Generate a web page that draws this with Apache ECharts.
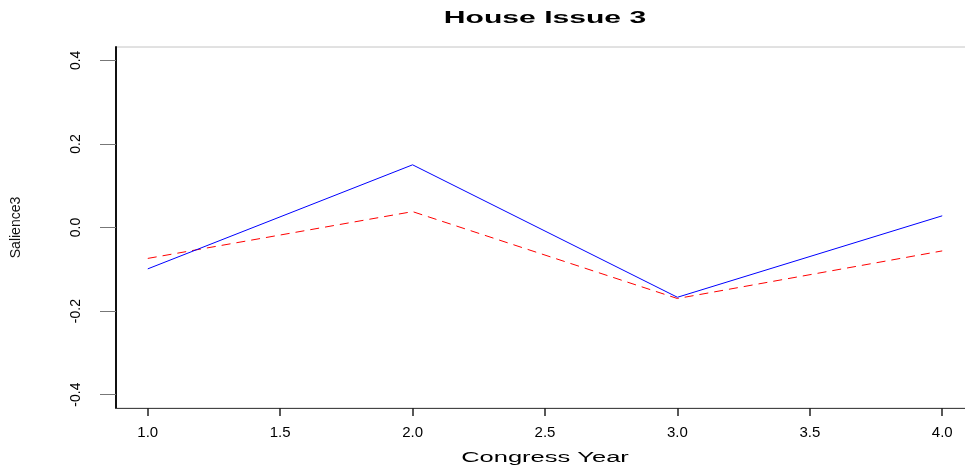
<!DOCTYPE html>
<html>
<head>
<meta charset="utf-8">
<script src="https://cdn.jsdelivr.net/npm/echarts@6/dist/echarts.min.js"></script>
<style>
  html, body { margin: 0; padding: 0; background: #fff; }
  #chart { width: 965px; height: 472px; }
</style>
</head>
<body>
<div id="chart"></div>
<script>
// Salience of House issue 3 across congress years
const titleText = 'House Issue 3';
const xTitle = 'Congress Year';
const yTitle = 'Salience3';

const congressYear = [1, 2, 3, 4];
const blueSeries = [-0.099, 0.150, -0.167, 0.028];
const redSeries = [-0.074, 0.038, -0.170, -0.056];

const xTicks = [1.0, 1.5, 2.0, 2.5, 3.0, 3.5, 4.0];
const xTickLabels = ['1.0', '1.5', '2.0', '2.5', '3.0', '3.5', '4.0'];
const yTicks = [-0.4, -0.2, 0.0, 0.2, 0.4];
const yTickLabels = ['-0.4', '-0.2', '0.0', '0.2', '0.4'];

function labelFor(ticks, labels) {
  return function (v) {
    for (let i = 0; i < ticks.length; i++) {
      if (Math.abs(ticks[i] - v) < 1e-9) return labels[i];
    }
    return '';
  };
}

const chart = echarts.init(document.getElementById('chart'), null, { renderer: 'canvas' });
const font = '"Liberation Sans", Arial, sans-serif';

chart.setOption({
  animation: false,
  backgroundColor: '#ffffff',
  grid: {
    left: 116, top: 47, right: -9, bottom: 64,
    outerBoundsMode: 'none',
    containLabel: false,
    show: true, borderColor: '#c4c4c4', borderWidth: 1
  },
  xAxis: {
    type: 'value',
    min: 0.88, max: 4.12,
    splitLine: { show: false },
    axisLine: { show: true, onZero: false, lineStyle: { color: '#444', width: 1.2 } },
    axisTick: { show: true, customValues: xTicks, length: 8, lineStyle: { color: '#222', width: 1.5 } },
    axisLabel: {
      customValues: xTicks,
      formatter: labelFor(xTicks, xTickLabels),
      margin: 17, fontSize: 15, color: '#000', fontFamily: font
    }
  },
  yAxis: {
    type: 'value',
    min: -0.432, max: 0.432,
    splitLine: { show: false },
    axisLine: { show: true, onZero: false, lineStyle: { color: '#111', width: 2 } },
    axisTick: { show: true, customValues: yTicks, length: 16, lineStyle: { color: '#777', width: 1 } },
    axisLabel: {
      customValues: yTicks,
      formatter: labelFor(yTicks, yTickLabels),
      rotate: 90, margin: 33, fontSize: 14, color: '#000', fontFamily: font
    },
    name: yTitle,
    nameLocation: 'middle',
    nameRotate: 90,
    nameGap: 93,
    nameTextStyle: { fontSize: 14, color: '#111', fontFamily: font }
  },
  graphic: [
    {
      type: 'text', x: 545, y: 19, scaleX: 1.88,
      style: { text: titleText, font: 'bold 16px ' + font, fill: '#000', align: 'center', verticalAlign: 'middle' }
    },
    {
      type: 'text', x: 545, y: 458, scaleX: 1.82,
      style: { text: xTitle, font: '14px ' + font, fill: '#000', align: 'center', verticalAlign: 'middle' }
    }
  ],
  series: [
    {
      type: 'line',
      data: congressYear.map((x, i) => [x, blueSeries[i]]),
      showSymbol: false,
      lineStyle: { color: '#0000ff', width: 1 },
      z: 3
    },
    {
      type: 'line',
      data: congressYear.map((x, i) => [x, redSeries[i]]),
      showSymbol: false,
      lineStyle: { color: '#ff0000', width: 1, type: [9, 6] },
      z: 2
    }
  ]
});
</script>
</body>
</html>
